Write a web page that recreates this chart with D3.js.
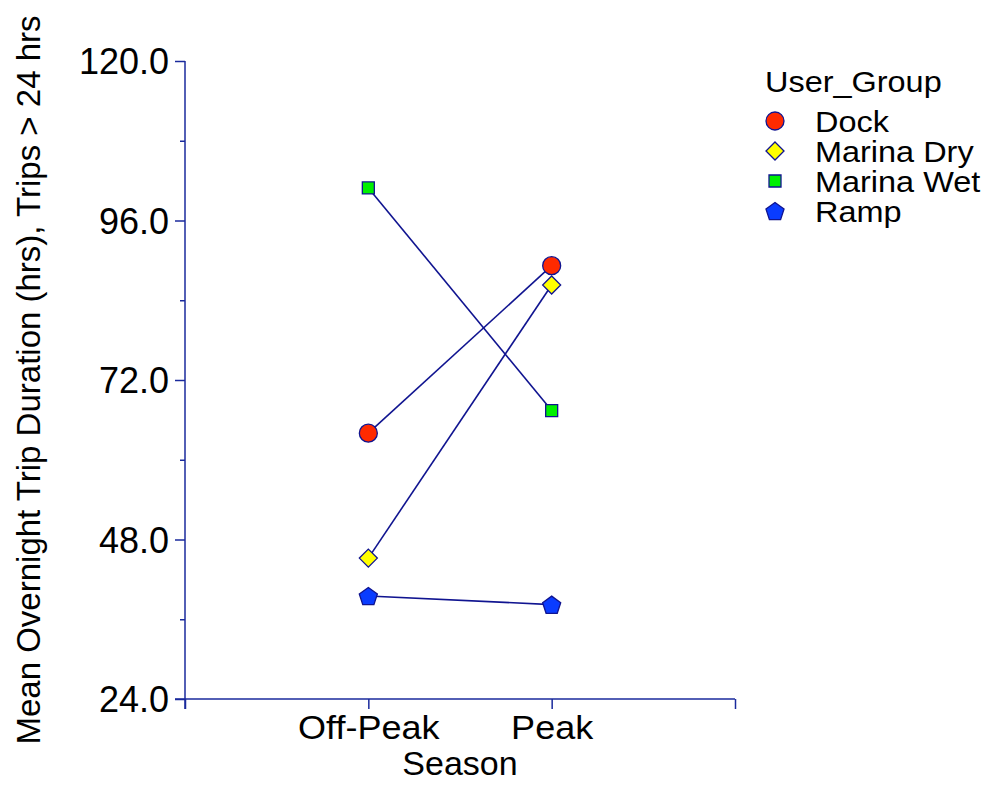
<!DOCTYPE html>
<html><head><meta charset="utf-8">
<script src="https://cdn.jsdelivr.net/npm/d3@7"></script>
<style>body{margin:0;background:#fff}text{font-family:"Liberation Sans",Arial,sans-serif;fill:#000}</style>
</head><body><svg id="c" width="987" height="787"></svg>
<script>
const seasons = ["Off-Peak", "Peak"];
const groups = ["Dock", "Marina Dry", "Marina Wet", "Ramp"];
const dockVals = [64.0, 89.2];
const marinaDryVals = [45.2, 86.3];
const marinaWetVals = [100.9, 67.4];
const rampVals = [39.5, 38.2];
const yTicks = [24, 48, 72, 96, 120];
const yMinorTicks = [36, 60, 84, 108];
const groupColors = ["#ff2a00", "#ffff00", "#00f000", "#0a3cff"];
const groupShapes = ["circle", "diamond", "square", "pentagon"];
const seriesVals = [dockVals, marinaDryVals, marinaWetVals, rampVals];

const axisCol = "#1a2a9c", lineCol = "#101490";
const svg = d3.select("#c");
const x = d3.scaleLinear().domain([0, 3]).range([185, 735]);
const y = d3.scaleLinear().domain([24, 120]).range([699, 61]);
const xPos = s => x(seasons.indexOf(s) + 1);

// y axis
const ya = svg.append("g").attr("transform", "translate(185,0)")
  .call(d3.axisLeft(y).tickValues(yTicks).tickSize(10).tickPadding(6).tickFormat(d3.format(".1f")));
ya.select(".domain").remove();
ya.selectAll("line").attr("stroke", axisCol).attr("stroke-width", 1.5);
ya.selectAll("text").attr("font-size", 36).attr("dy", "0.36em").style("font-family", '"Liberation Sans",Arial,sans-serif');
const yb = svg.append("g").attr("transform", "translate(185,0)")
  .call(d3.axisLeft(y).tickValues(yMinorTicks).tickSize(5).tickFormat(""));
yb.select(".domain").remove();
yb.selectAll("line").attr("stroke", axisCol).attr("stroke-width", 1.5);
svg.append("line").attr("x1", 185).attr("x2", 185).attr("y1", y(120)).attr("y2", 709)
  .attr("stroke", axisCol).attr("stroke-width", 1.5);

// x axis
const xa = svg.append("g").attr("transform", "translate(0,699)")
  .call(d3.axisBottom(x).tickValues([0, 1, 2, 3]).tickSize(10).tickPadding(6)
    .tickFormat(d => (d >= 1 && d <= 2) ? seasons[d - 1] : ""));
xa.select(".domain").remove();
xa.selectAll("line").attr("stroke", axisCol).attr("stroke-width", 1.5);
xa.selectAll("text").attr("font-size", 34).attr("dy", "0.72em").style("font-family", '"Liberation Sans",Arial,sans-serif')
  .attr("transform", "scale(1.06,1)");
svg.append("line").attr("x1", 175).attr("x2", 735).attr("y1", 699).attr("y2", 699)
  .attr("stroke", axisCol).attr("stroke-width", 1.5);

svg.append("text").attr("x", 460).attr("y", 775).attr("text-anchor", "middle")
  .attr("font-size", 34).text("Season");
svg.append("text").attr("transform", "translate(40,380) rotate(-90)").attr("text-anchor", "middle")
  .attr("font-size", 33).text("Mean Overnight Trip Duration (hrs), Trips > 24 hrs");

// symbols
function sym(shape) {
  if (shape === "circle") return d3.symbol().type(d3.symbolCircle).size(Math.PI * 81)();
  if (shape === "square") return d3.symbol().type(d3.symbolSquare).size(144)();
  if (shape === "diamond") return "M0,-9L9,0L0,9L-9,0Z";
  const r = 9.5;
  return d3.range(5).map(i => {
    const a = -Math.PI / 2 + i * 2 * Math.PI / 5;
    return (i ? "L" : "M") + (r * Math.cos(a)).toFixed(2) + "," + (r * Math.sin(a) + 1).toFixed(2);
  }).join("") + "Z";
}

const line = d3.line().x(d => xPos(d.s)).y(d => y(d.v));
groups.forEach((g, gi) => {
  const pts = seasons.map((s, si) => ({ s, v: seriesVals[gi][si] }));
  svg.append("path").attr("d", line(pts)).attr("fill", "none").attr("stroke", lineCol).attr("stroke-width", 1.6);
});
groups.forEach((g, gi) => {
  seasons.forEach((s, si) => {
    svg.append("path").attr("d", sym(groupShapes[gi]))
      .attr("transform", `translate(${xPos(s)},${y(seriesVals[gi][si])})`)
      .attr("fill", groupColors[gi]).attr("stroke", lineCol).attr("stroke-width", 1.3);
  });
});

// legend
const lg = svg.append("g");
lg.append("text").attr("transform", "translate(765,92) scale(1.1,1)").attr("font-size", 29.5).text("User_Group");
groups.forEach((g, gi) => {
  const cy = 121 + gi * 30;
  lg.append("path").attr("d", sym(groupShapes[gi])).attr("transform", `translate(775,${cy})`)
    .attr("fill", groupColors[gi]).attr("stroke", lineCol).attr("stroke-width", 1.3);
  lg.append("text").attr("transform", `translate(815,${cy + 10.5}) scale(1.1,1)`).attr("font-size", 29.5).text(g);
});
</script></body></html>
